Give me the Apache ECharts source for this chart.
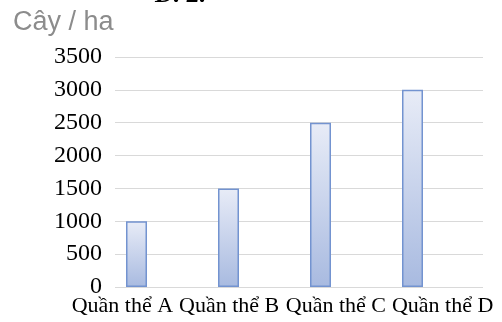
<!DOCTYPE html>
<html><head><meta charset="utf-8">
<script src="https://cdn.jsdelivr.net/npm/echarts@6/dist/echarts.min.js"></script>
<style>html,body{margin:0;padding:0;background:#fff}#c{width:502px;height:322px}</style>
</head><body><div id="c"></div>
<script>
const categories = ['Quần thể A', 'Quần thể B', 'Quần thể C', 'Quần thể D'];
const density = [1000, 1500, 2500, 3000];
const yMin = 0, yMax = 3500, yStep = 500;
const unitLabel = 'Cây / ha';
const topText = 'D. 2.';

const chart = echarts.init(document.getElementById('c'), null, {renderer: 'canvas'});
const serif = '"Liberation Serif", "Times New Roman", serif';
chart.setOption({
  animation: false,
  backgroundColor: '#ffffff',
  graphic: [
    {type: 'text', left: 13, top: 9, style: {text: unitLabel, font: '27px "Liberation Sans", Arial, sans-serif', fill: '#8c8c8c'}},
    {type: 'text', left: 155, top: -18, style: {text: topText, font: 'italic bold 26px ' + serif, fill: '#000'}}
  ],
  grid: [
    {left: 115, right: 19, top: 57, bottom: 35},
    {left: 90.5, width: 368, top: 57, bottom: 35},
    {left: 69, width: 427, top: 57, bottom: 35}
  ],
  xAxis: [
    {gridIndex: 0, type: 'category', data: categories, show: false},
    {gridIndex: 1, type: 'category', data: categories, axisLine: {show: false}, axisTick: {show: false}, axisLabel: {show: false}},
    {gridIndex: 2, type: 'category', data: categories, axisLine: {show: false}, axisTick: {show: false},
      axisLabel: {show: true, interval: 0, margin: 8, fontFamily: serif, fontSize: 22, color: '#000'}}
  ],
  yAxis: [
    {gridIndex: 0, type: 'value', min: yMin, max: yMax, interval: yStep,
      axisLine: {show: false}, axisTick: {show: false},
      axisLabel: {margin: 13, fontFamily: serif, fontSize: 24, color: '#000', formatter: v => String(v)},
      splitLine: {lineStyle: {color: '#d9d9d9', width: 1}}},
    {gridIndex: 1, type: 'value', min: yMin, max: yMax, interval: yStep, show: false, splitLine: {show: false}},
    {gridIndex: 2, type: 'value', min: yMin, max: yMax, interval: yStep, show: false, splitLine: {show: false}}
  ],
  series: [{
    type: 'bar', xAxisIndex: 1, yAxisIndex: 1, data: density, barWidth: 21,
    itemStyle: {
      color: new echarts.graphic.LinearGradient(0, 0, 0, 1, [
        {offset: 0, color: '#e8ecf7'}, {offset: 1, color: '#a8bae0'}]),
      borderColor: '#7393d0', borderWidth: 1.5
    }
  }]
});
</script></body></html>
